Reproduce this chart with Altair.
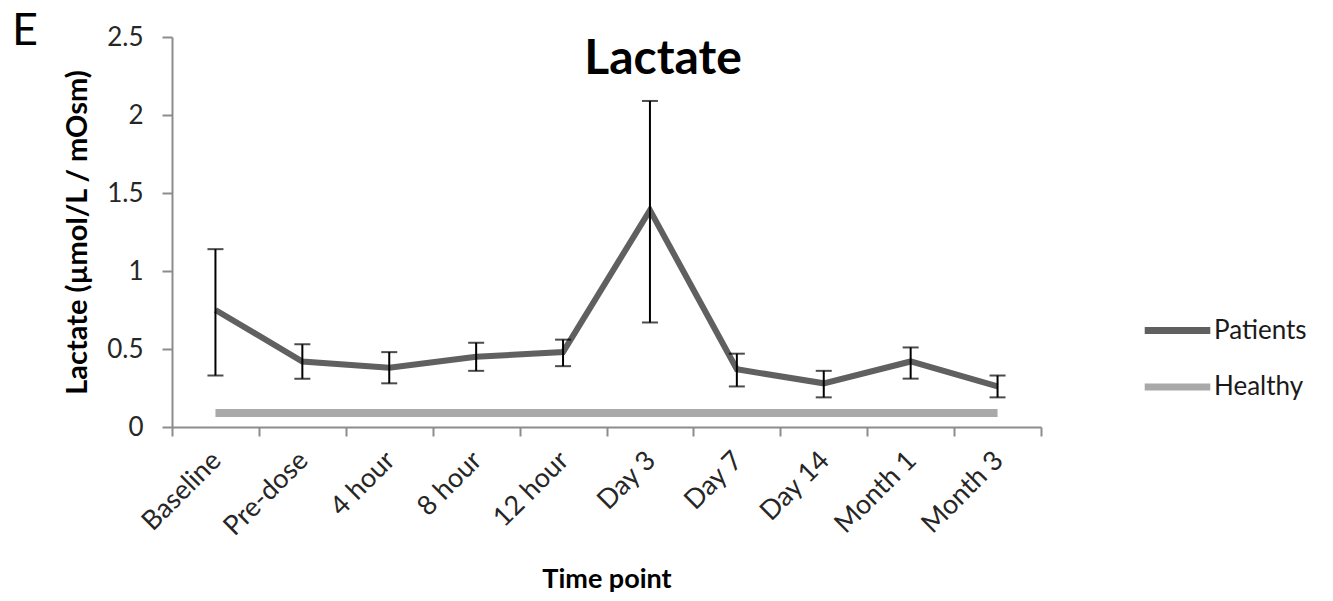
import altair as alt
import pandas as pd

# Sampling time points
time_points = ["Baseline", "Pre-dose", "4 hour", "8 hour", "12 hour",
               "Day 3", "Day 7", "Day 14", "Month 1", "Month 3"]

# Patients: mean lactate with error bar limits
patients_mean = [0.75, 0.42, 0.38, 0.45, 0.48, 1.39, 0.37, 0.28, 0.42, 0.26]
patients_low = [0.33, 0.31, 0.28, 0.36, 0.39, 0.67, 0.26, 0.19, 0.31, 0.19]
patients_high = [1.14, 0.53, 0.48, 0.54, 0.56, 2.09, 0.47, 0.36, 0.51, 0.33]

# Healthy reference level
healthy_mean = [0.09] * len(time_points)

series_names = ["Patients", "Healthy"]
series_colors = ["#606060", "#a9a9a9"]

FONT = "Lato"

patients = pd.DataFrame({
    "time": time_points,
    "value": patients_mean,
    "low": patients_low,
    "high": patients_high,
    "series": "Patients",
})
healthy = pd.DataFrame({
    "time": time_points,
    "value": healthy_mean,
    "series": "Healthy",
})

x_enc = alt.X(
    "time:N",
    sort=time_points,
    scale=alt.Scale(type="band", paddingInner=0, paddingOuter=0),
    axis=alt.Axis(
        title="Time point",
        titleFont=FONT, titleFontSize=27, titleFontWeight="bold",
        titleColor="#000000", titlePadding=26,
        labelFont=FONT, labelFontSize=27, labelColor="#262626",
        labelAngle=-45, labelAlign="right", labelBaseline="middle",
        labelPadding=20, labelOffset=1,
        tickBand="extent", tickSize=9, tickColor="#8c8c8c", tickWidth=2,
        domainColor="#8c8c8c", domainWidth=2, grid=False,
    ),
)

y_scale = alt.Scale(domain=[0, 2.5], nice=False)
y_axis = alt.Axis(
    title="Lactate (\u00b5mol/L / mOsm)",
    titleFont=FONT, titleFontSize=29, titleFontWeight="bold",
    titleColor="#000000", titlePadding=14,
    values=[0, 0.5, 1, 1.5, 2, 2.5], format="~g",
    labelFont=FONT, labelFontSize=26, labelColor="#262626", labelPadding=19,
    tickSize=10, tickColor="#8c8c8c", tickWidth=2,
    domainColor="#8c8c8c", domainWidth=2, grid=False,
)

color_enc = alt.Color(
    "series:N",
    scale=alt.Scale(domain=series_names, range=series_colors),
    legend=alt.Legend(
        title=None, orient="none", legendX=969, legendY=257,
        symbolType="stroke", symbolSize=4300, symbolStrokeWidth=7,
        labelFont=FONT, labelFontSize=26, labelColor="#1a1a1a",
        labelOffset=0, rowPadding=5.5,
    ),
)

healthy_line = alt.Chart(healthy).mark_line(strokeWidth=8).encode(
    x=x_enc,
    y=alt.Y("value:Q", scale=y_scale, axis=y_axis),
    color=color_enc,
)

patients_line = alt.Chart(patients).mark_line(strokeWidth=6).encode(
    x=x_enc,
    y=alt.Y("value:Q", scale=y_scale, axis=y_axis),
    color=color_enc,
)

err_rule = alt.Chart(patients).mark_rule(color="black", strokeWidth=2).encode(
    x=x_enc,
    y=alt.Y("low:Q", scale=y_scale),
    y2="high:Q",
)

cap_low = alt.Chart(patients).mark_tick(color="black", size=16, thickness=2).encode(
    x=x_enc,
    y=alt.Y("low:Q", scale=y_scale),
)
cap_high = alt.Chart(patients).mark_tick(color="black", size=16, thickness=2).encode(
    x=x_enc,
    y=alt.Y("high:Q", scale=y_scale),
)

# Panel letter and chart heading
panel_letter = alt.Chart(pd.DataFrame({"t": ["E"]})).mark_text(
    font=FONT, fontSize=45, align="left", baseline="alphabetic", color="#000000"
).encode(
    x=alt.value(-160), y=alt.value(8), text="t:N"
)

heading = alt.Chart(pd.DataFrame({"t": ["Lactate"]})).mark_text(
    font=FONT, fontSize=48, fontWeight="bold", align="center",
    baseline="alphabetic", color="#000000"
).encode(
    x=alt.value(491), y=alt.value(37), text="t:N"
)

chart = alt.layer(
    healthy_line, patients_line, err_rule, cap_low, cap_high,
    panel_letter, heading
).properties(
    width=869,
    height=390,
    padding={"left": 172, "top": 37, "right": 292, "bottom": 174},
    autosize=alt.AutoSizeParams(type="none"),
    background="white",
).configure_view(stroke=None)

chart.save("out.html", embed_options={"renderer": "svg", "actions": False})
